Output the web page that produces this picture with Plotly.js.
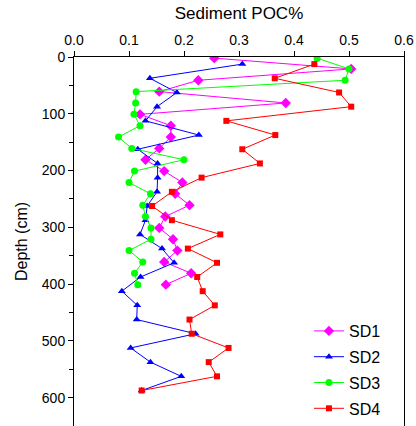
<!DOCTYPE html>
<html>
<head>
<meta charset="utf-8">
<script src="https://cdn.plot.ly/plotly-3.0.1.min.js"></script>
<style>html,body{margin:0;padding:0;background:#fff;}#chart{width:416px;height:426px;}</style>
</head>
<body>
<div id="chart"></div>
<script>
// Depths (cm)
const depthSD13 = [2,21,41,61,81,101,121,141,161,181,201,221,241,261,281,301,321,341,361,381,401];
const depthSD24 = [12.5,37.5,62.5,87.5,112.5,137.5,162.5,187.5,212.5,237.5,262.5,287.5,312.5,337.5,362.5,387.5,412.5,437.5,462.5,487.5,512.5,537.5,562.5,587.5];
// Sediment POC %
const sd1 = [0.255,0.504,0.226,0.155,0.385,0.12,0.176,0.176,0.155,0.13,0.164,0.197,0.184,0.21,0.166,0.155,0.18,0.188,0.164,0.213,0.167];
const sd2 = [0.306,0.138,0.187,0.151,0.13,0.227,0.116,0.152,0.152,0.151,0.133,0.13,0.12,0.16,0.182,0.121,0.087,0.115,0.114,0.221,0.103,0.139,0.195,0.123];
const sd3 = [0.442,0.5,0.493,0.113,0.112,0.109,0.12,0.081,0.105,0.2,0.11,0.1,0.139,0.125,0.13,0.14,0.14,0.1,0.125,0.11,0.116];
const sd4 = [0.437,0.365,0.482,0.504,0.277,0.366,0.306,0.338,0.232,0.178,0.142,0.178,0.266,0.207,0.26,0.224,0.234,0.256,0.21,0.214,0.281,0.245,0.26,0.123];
const seriesNames = ['SD1','SD2','SD3','SD4'];

function tr(name, x, y, color, symbol, size, grp) {
  return {
    type: 'scatter', mode: 'lines+markers', name: name, x: x, y: y,
    legendgroup: grp,
    line: {color: color, width: 1},
    marker: {color: color, symbol: symbol, size: size}
  };
}
const data = [
  tr(seriesNames[0], sd1, depthSD13, '#FF00FF', 'diamond', 8, 'a'),
  tr(seriesNames[1], sd2, depthSD24, '#0000FF', 'triangle-up', 7, 'b'),
  tr(seriesNames[2], sd3, depthSD13, '#00FF00', 'circle', 7, 'c'),
  tr(seriesNames[3], sd4, depthSD24, '#FF0000', 'square', 6, 'd')
];
const font = {family: 'Liberation Sans, Arial, sans-serif', size: 14, color: '#000'};
const layout = {
  width: 416, height: 426,
  margin: {l: 74, r: 12, t: 57, b: 0, pad: 0, autoexpand: false},
  paper_bgcolor: '#fff', plot_bgcolor: '#fff',
  font: font,
  showlegend: true,
  legend: {x: 0.712, y: 0.0, xanchor: 'left', yanchor: 'bottom', bgcolor: 'rgba(0,0,0,0)',
           font: {family: font.family, size: 16, color: '#000'}, tracegroupgap: 2, traceorder: 'grouped'},
  xaxis: {
    side: 'top', range: [0, 0.6], dtick: 0.1, tickformat: '.1f',
    showgrid: false, zeroline: false, showline: true, linecolor: '#000', linewidth: 1,
    ticks: 'outside', ticklen: 5, tickcolor: '#000', tickfont: {family: font.family, size: 14},
    title: {text: 'Sediment POC%', font: {family: font.family, size: 17}, standoff: 8},
    mirror: false, automargin: false
  },
  yaxis: {
    range: [650, 0], dtick: 100, tick0: 0,
    showgrid: false, zeroline: false, showline: true, linecolor: '#000', linewidth: 1,
    ticks: 'outside', ticklen: 5, tickcolor: '#000', tickfont: {family: font.family, size: 14},
    minor: {dtick: 50, ticks: 'outside', ticklen: 4, tickcolor: '#000', showgrid: false},
    title: {text: 'Depth (cm)', font: {family: font.family, size: 16}, standoff: 10},
    mirror: true, automargin: false
  }
};
Plotly.newPlot('chart', data, layout, {staticPlot: true, displayModeBar: false});
</script>
</body>
</html>
